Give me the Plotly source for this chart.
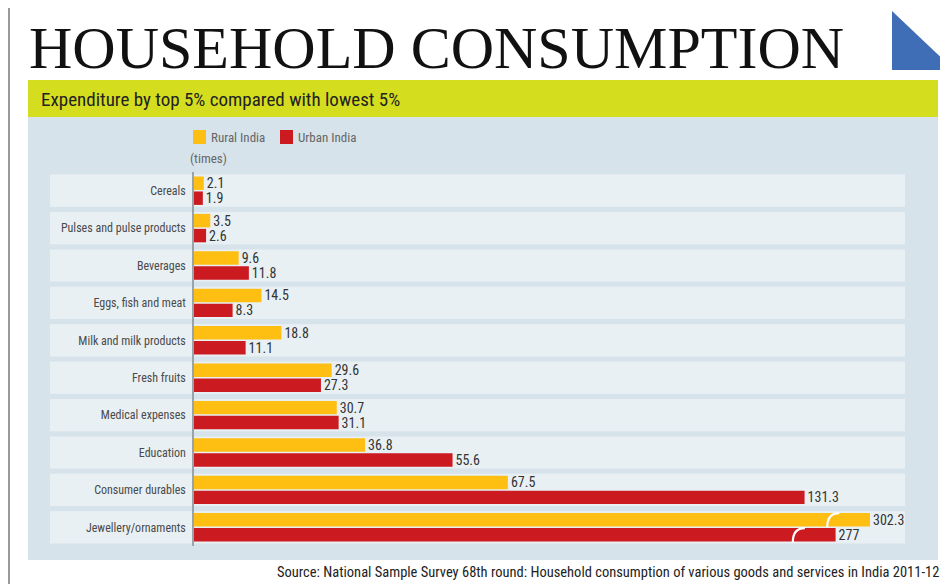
import plotly.graph_objects as go

# ---------------- data ----------------
categories = ["Cereals", "Pulses and pulse products", "Beverages", "Eggs, fish and meat",
              "Milk and milk products", "Fresh fruits", "Medical expenses", "Education",
              "Consumer durables", "Jewellery/ornaments"]
rural_india = [2.1, 3.5, 9.6, 14.5, 18.8, 29.6, 30.7, 36.8, 67.5, 302.3]
urban_india = [1.9, 2.6, 11.8, 8.3, 11.1, 27.3, 31.1, 55.6, 131.3, 277]
value_labels_rural = ["2.1", "3.5", "9.6", "14.5", "18.8", "29.6", "30.7", "36.8", "67.5", "302.3"]
value_labels_urban = ["1.9", "2.6", "11.8", "8.3", "11.1", "27.3", "31.1", "55.6", "131.3", "277"]

# ---------------- styling / layout constants ----------------
OFF = 8                     # page body margin of the html page
W, H = 948 - OFF, 584 - OFF
ML, MR, MT, MB = 194 - OFF, 43, 172 - OFF, 38
PW, PH = W - ML - MR, H - MT - MB
AXIS_MAX = 152.9            # visible axis range (real units)
BREAK_START = 80.5          # broken-bar compression for values beyond the axis
BREAK_SCALE = 0.2925

YELLOW = "#FFBE12"
RED = "#CC1A21"
BAND = "#D5DD1F"
PANEL = "#D6E3EB"
ROW = "#E9F0F4"
NARROW = "Liberation Sans Narrow, Arial Narrow, Roboto Condensed, Liberation Sans, sans-serif"

BARGAP = 0.2
GROUPGAP = 0.1


def shown(v):
    """Value drawn on the (broken) axis."""
    if v > AXIS_MAX:
        return BREAK_START + (v - BREAK_START) * BREAK_SCALE
    return v


def px_x(p):
    return (p - OFF - ML) / PW


def px_y(p):
    return (H - MB - (p - OFF)) / PH


ypos = list(range(len(categories)))

fig = go.Figure()
fig.add_trace(go.Bar(
    y=ypos, x=[shown(v) for v in rural_india], orientation="h", name="Rural India",
    marker=dict(color=YELLOW, line=dict(width=0)),
    text=value_labels_rural, textposition="outside", cliponaxis=False, constraintext="none",
    textfont=dict(family=NARROW, size=14, color="#333333"),
    customdata=rural_india, hovertemplate="%{customdata}<extra>Rural India</extra>",
))
fig.add_trace(go.Bar(
    y=ypos, x=[shown(v) for v in urban_india], orientation="h", name="Urban India",
    marker=dict(color=RED, line=dict(width=0)),
    text=value_labels_urban, textposition="outside", cliponaxis=False, constraintext="none",
    textfont=dict(family=NARROW, size=14, color="#333333"),
    customdata=urban_india, hovertemplate="%{customdata}<extra>Urban India</extra>",
))

shapes = []
# left rule of the page
shapes.append(dict(type="line", xref="paper", yref="paper", x0=px_x(9), x1=px_x(9),
                   y0=px_y(8), y1=px_y(584), line=dict(color="#9a9a9a", width=2), layer="below"))
# blue corner triangle
shapes.append(dict(type="path", xref="paper", yref="paper",
                   path=f"M {px_x(892)},{px_y(11)} L {px_x(892)},{px_y(70)} L {px_x(948)},{px_y(70)} "
                        f"L {px_x(948)},{px_y(64)} Z",
                   fillcolor="#3F6EB6", line=dict(width=0), layer="below"))
# lime band
shapes.append(dict(type="rect", xref="paper", yref="paper", x0=px_x(28), x1=px_x(938),
                   y0=px_y(117), y1=px_y(80), fillcolor=BAND, line=dict(width=0), layer="below"))
# chart panel
shapes.append(dict(type="rect", xref="paper", yref="paper", x0=px_x(28), x1=px_x(938),
                   y0=px_y(560), y1=px_y(117), fillcolor=PANEL, line=dict(width=0), layer="below"))
# row panels
for i in ypos:
    shapes.append(dict(type="rect", xref="paper", yref="y", x0=px_x(50), x1=px_x(905),
                       y0=i - 0.43, y1=i + 0.43, fillcolor=ROW, line=dict(width=0), layer="below"))
# legend swatches
shapes.append(dict(type="rect", xref="paper", yref="paper", x0=px_x(193), x1=px_x(206),
                   y0=px_y(144), y1=px_y(130), fillcolor=YELLOW, line=dict(width=0)))
shapes.append(dict(type="rect", xref="paper", yref="paper", x0=px_x(280), x1=px_x(293),
                   y0=px_y(144), y1=px_y(130), fillcolor=RED, line=dict(width=0)))

# axis-break marks on bars that run past the axis
slot = (1 - BARGAP) / 2
half = slot * (1 - GROUPGAP) / 2
for series, offset in ((rural_india, -slot / 2), (urban_india, slot / 2)):
    for i, v in enumerate(series):
        if v > AXIS_MAX:
            xe = shown(v) - 9.2
            yc = i + offset
            shapes.append(dict(type="path", xref="x", yref="y",
                               path=f"M {xe},{yc + half + 0.02} Q {xe},{yc - half} {xe + 2.6},{yc - half}",
                               line=dict(color="white", width=2.2)))

annotations = [
    dict(text="HOUSEHOLD CONSUMPTION", xref="paper", yref="paper", x=px_x(27), y=px_y(48),
         xanchor="left", yanchor="middle", showarrow=False,
         font=dict(family="Liberation Serif, DejaVu Serif, serif", size=60, color="#111111")),
    dict(text="Expenditure by top 5% compared with lowest 5%", xref="paper", yref="paper",
         x=px_x(39), y=px_y(99), xanchor="left", yanchor="middle", showarrow=False,
         font=dict(family=NARROW, size=19, color="#222222")),
    dict(text="Rural India", xref="paper", yref="paper", x=px_x(209), y=px_y(137),
         xanchor="left", yanchor="middle", showarrow=False,
         font=dict(family=NARROW, size=13, color="#666666")),
    dict(text="Urban India", xref="paper", yref="paper", x=px_x(296), y=px_y(137),
         xanchor="left", yanchor="middle", showarrow=False,
         font=dict(family=NARROW, size=13, color="#666666")),
    dict(text="(times)", xref="paper", yref="paper", x=px_x(188), y=px_y(158),
         xanchor="left", yanchor="middle", showarrow=False,
         font=dict(family=NARROW, size=13, color="#666666")),
    dict(text="Source: National Sample Survey 68th round: Household consumption of various goods and services in India 2011-12",
         xref="paper", yref="paper", x=px_x(941), y=px_y(572), xanchor="right", yanchor="middle",
         showarrow=False, font=dict(family=NARROW, size=14.5, color="#222222")),
]

fig.update_layout(
    width=W, height=H,
    margin=dict(l=ML, r=MR, t=MT, b=MB, pad=0),
    paper_bgcolor="white", plot_bgcolor="rgba(0,0,0,0)",
    barmode="group", bargap=BARGAP, bargroupgap=GROUPGAP,
    showlegend=False,
    shapes=shapes, annotations=annotations,
    xaxis=dict(range=[0, AXIS_MAX], visible=False, fixedrange=True),
    yaxis=dict(range=[len(categories) - 0.5, -0.5], tickvals=ypos, ticktext=categories,
               showgrid=False, zeroline=False, showline=True, linecolor="#9aa3a8", linewidth=1.5,
               ticks="", ticklabelstandoff=4,
               tickfont=dict(family=NARROW, size=12, color="#4a4a4a"), fixedrange=True),
)

fig.write_html("out.html")
